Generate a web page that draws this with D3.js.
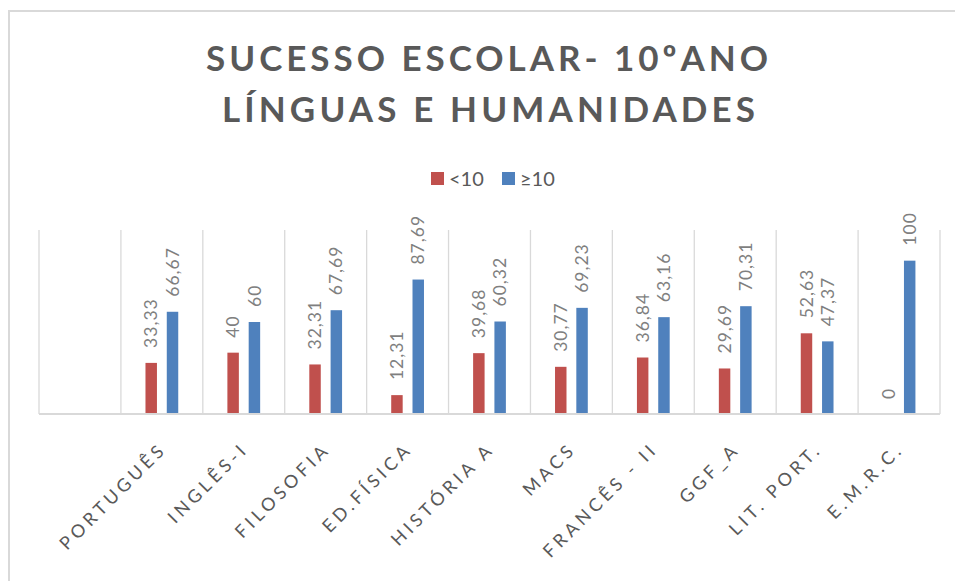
<!DOCTYPE html>
<html>
<head>
<meta charset="utf-8">
<script src="https://cdn.jsdelivr.net/npm/d3@7"></script>
<style>
  html, body { margin: 0; padding: 0; background: #ffffff; }
  svg { display: block; }
</style>
</head>
<body>
<svg id="chart" width="955" height="581"></svg>
<script>
// ---- data ----
const titleLines = ["SUCESSO ESCOLAR- 10ºANO", "LÍNGUAS E HUMANIDADES"];
const categories = ["", "PORTUGUÊS", "INGLÊS-I", "FILOSOFIA", "ED.FÍSICA", "HISTÓRIA A", "MACS", "FRANCÊS - II", "GGF_A", "LIT. PORT.", "E.M.R.C."];
const seriesNames = ["<10", "≥10"];
const below10 = [null, 33.33, 40, 32.31, 12.31, 39.68, 30.77, 36.84, 29.69, 52.63, 0];
const above10 = [null, 66.67, 60, 67.69, 87.69, 60.32, 69.23, 63.16, 70.31, 47.37, 100];
const seriesColors = ["#C0504D", "#4F81BD"];

// ---- layout ----
const svg = d3.select("#chart");
const plot = { left: 39, right: 940, top: 230, bottom: 414 };

const fontFamily = "Lato, 'Open Sans', 'Noto Sans', sans-serif";

// outer chart border
svg.append("rect")
  .attr("x", 9).attr("y", 11)
  .attr("width", 1000).attr("height", 1000)
  .attr("fill", "#ffffff")
  .attr("stroke", "#d9d9d9").attr("stroke-width", 2);

// title
const titleWidths = [562, 533];
const titleCenters = [487, 488.5];
const titleBaselines = [71, 122];
titleLines.forEach((t, i) => {
  svg.append("text")
    .attr("x", titleCenters[i]).attr("y", titleBaselines[i])
    .attr("text-anchor", "middle")
    .attr("font-family", fontFamily)
    .attr("font-weight", 700)
    .attr("font-size", 35)
    .attr("fill", "#595959")
    .attr("textLength", titleWidths[i])
    .attr("lengthAdjust", "spacing")
    .text(t);
});

// legend
const legendX = [431, 502];
seriesNames.forEach((name, i) => {
  const g = svg.append("g").attr("transform", `translate(${legendX[i]},172)`);
  g.append("rect").attr("width", 13).attr("height", 13).attr("fill", seriesColors[i]);
  g.append("text")
    .attr("x", 18).attr("y", 13.5)
    .attr("font-family", fontFamily)
    .attr("font-size", 20)
    .attr("fill", "#595959")
    .text(name);
});

// scales
const x = d3.scaleBand().domain(categories.map((c, i) => i)).range([plot.left, plot.right]).padding(0);
const y = d3.scaleLinear().domain([0, 120]).range([plot.bottom, plot.top]);

const bw = x.bandwidth();
const barW = bw * 0.14;
const offsets = [-bw * 0.13, bw * 0.13];

// vertical gridlines at category boundaries
const bounds = categories.map((c, i) => x(i)).concat([plot.right]);
svg.append("g").selectAll("line").data(bounds).join("line")
  .attr("x1", d => d).attr("x2", d => d)
  .attr("y1", plot.top).attr("y2", plot.bottom)
  .attr("stroke", "#d9d9d9").attr("stroke-width", 1.3);

// bars
const series = [below10, above10];
series.forEach((vals, s) => {
  const data = vals.map((v, i) => ({ v, i })).filter(d => d.v !== null);
  svg.append("g").selectAll("rect").data(data).join("rect")
    .attr("x", d => x(d.i) + bw / 2 + offsets[s] - barW / 2)
    .attr("y", d => y(d.v))
    .attr("width", barW)
    .attr("height", d => y(0) - y(d.v))
    .attr("fill", seriesColors[s]);

  // value labels
  svg.append("g").selectAll("text").data(data).join("text")
    .attr("transform", d => `translate(${x(d.i) + bw / 2 + offsets[s]},${y(d.v) - 15}) rotate(-90)`)
    .attr("dy", "0.35em")
    .attr("text-anchor", "start")
    .attr("font-family", fontFamily)
    .attr("font-size", 17.5)
    .attr("letter-spacing", 1)
    .attr("fill", "#7f7f7f")
    .text(d => d.v.toString().replace(".", ","));
});

// category axis line
svg.append("line")
  .attr("x1", plot.left).attr("x2", plot.right)
  .attr("y1", plot.bottom).attr("y2", plot.bottom)
  .attr("stroke", "#d9d9d9").attr("stroke-width", 2.2);

// category labels
const ls = 4;
svg.append("g").selectAll("text").data(categories.map((c, i) => ({ c, i })).filter(d => d.c !== "")).join("text")
  .attr("transform", d => `translate(${x(d.i) + bw / 2 + 3},453) rotate(-45)`)
  .attr("text-anchor", "end")
  .attr("dx", ls)
  .attr("font-family", fontFamily)
  .attr("font-size", 18)
  .attr("letter-spacing", ls)
  .attr("fill", "#595959")
  .text(d => d.c);
</script>
</body>
</html>
